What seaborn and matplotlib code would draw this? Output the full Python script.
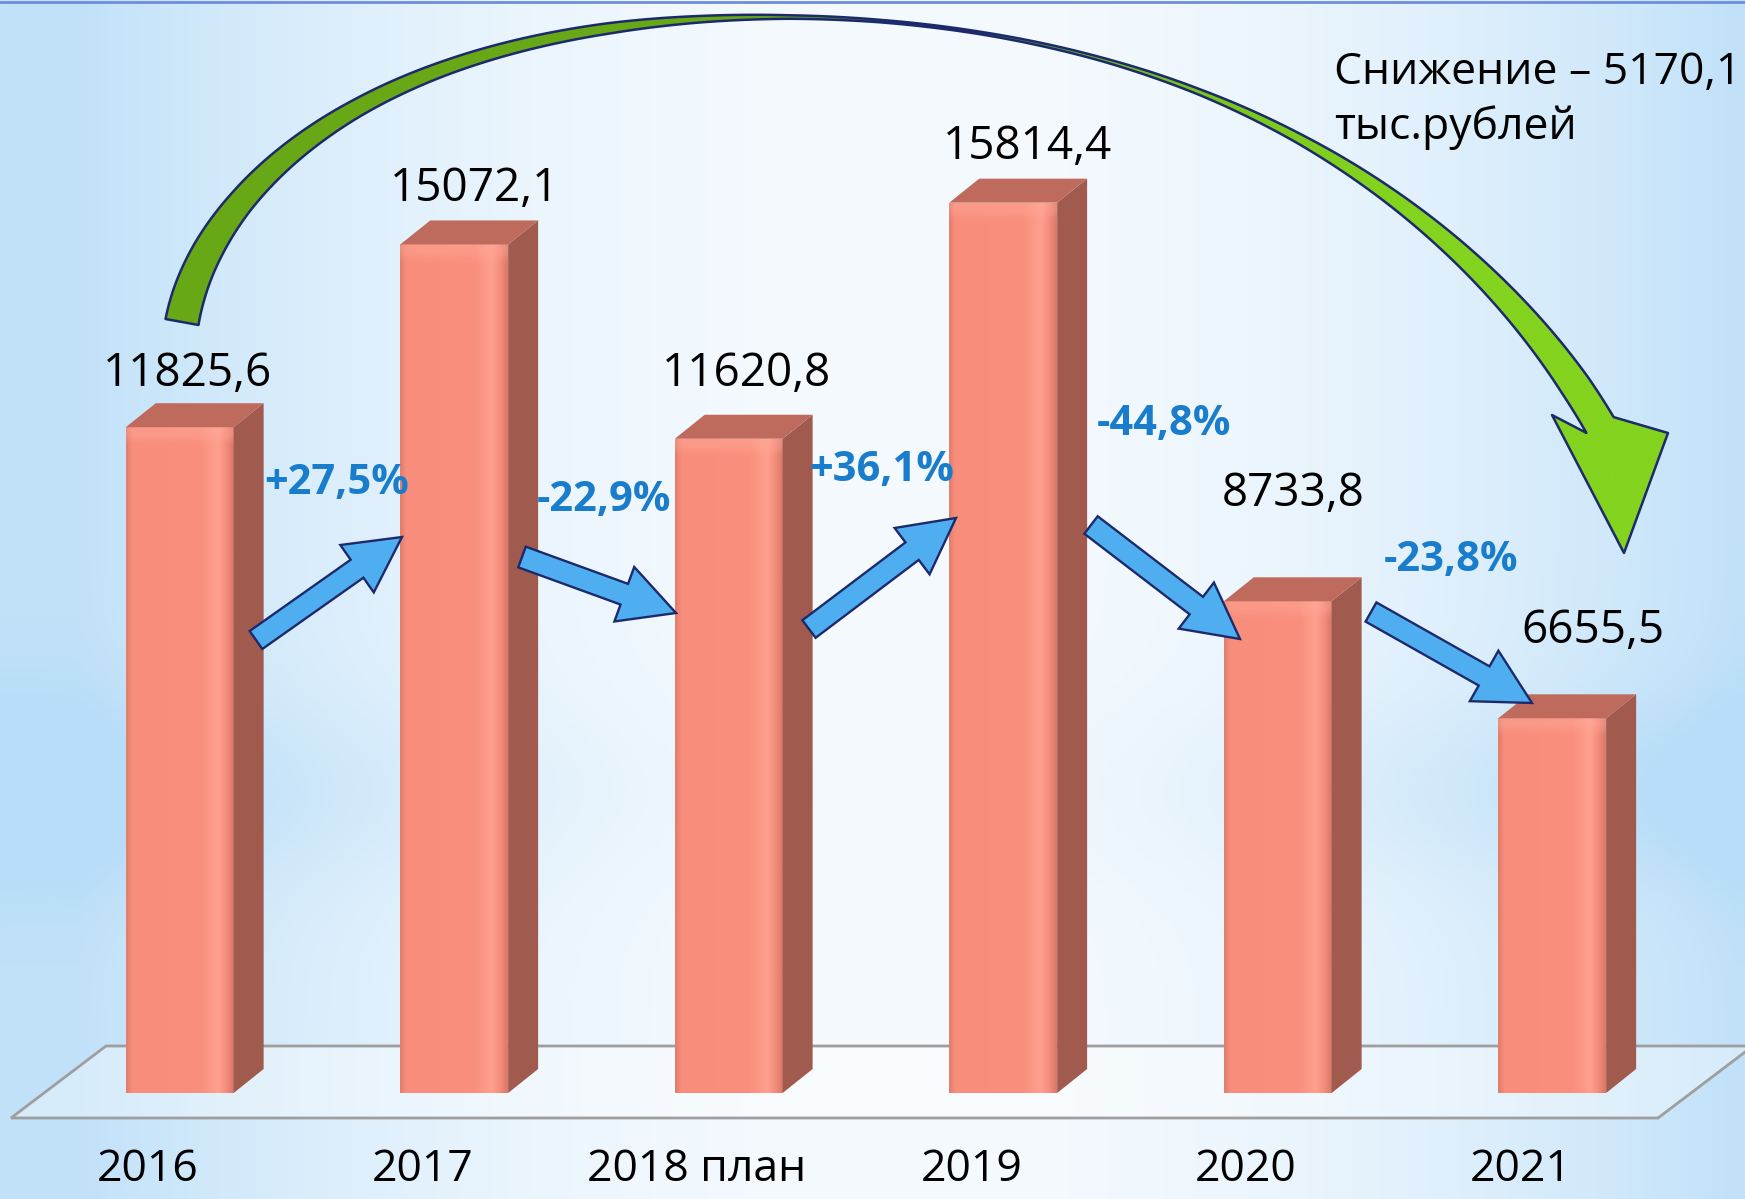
import numpy as np
import pandas as pd
import matplotlib
matplotlib.use("Agg")
import matplotlib.pyplot as plt
import seaborn as sns
from matplotlib.patches import Polygon, FancyArrow
from matplotlib.transforms import Affine2D
from matplotlib.colors import to_rgb
from numpy.polynomial import Polynomial

# ---------------- data ----------------
years = ['2016', '2017', '2018 план', '2019', '2020', '2021']
values = [11825.6, 15072.1, 11620.8, 15814.4, 8733.8, 6655.5]
value_labels = ['11825,6', '15072,1', '11620,8', '15814,4', '8733,8', '6655,5']
change_labels = ['+27,5%', '-22,9%', '+36,1%', '-44,8%', '-23,8%']
note_lines = ['Снижение – 5170,1', 'тыс.рублей']

# ---------------- layout / style ----------------
W, H = 1745, 1199
FRONT = '#F98D7B'
SIDE = '#A05B4E'
TOP = '#BE6B5E'
NAVY = '#1C2A6C'
BLUE_FILL = '#4FAEF0'
PCT_COLOR = '#1A7DCC'
DEPTH_X, DEPTH_Y = 30, 24

# value-label offsets (px, relative to bar top front centre) -> baseline
label_offsets = [(8, -41), (20, -43), (18, -53), (24, -44), (15, -95), (41, -75)]
# change arrows (tail, tip) in pixel coords from top-left
arrow_geom = [((256, 640), (402, 537)), ((522, 557), (676, 613)),
              ((809, 629), (956, 518)), ((1091, 525), (1240, 639)),
              ((1371, 612), (1532, 703))]
pct_pos = [(337, 494), (604, 511), (882, 481), (1164, 435), (1451, 571)]

sns.set_style('white')
plt.rcParams['font.family'] = ['Open Sans', 'DejaVu Sans']

fig = plt.figure(figsize=(W / 100, H / 100), dpi=100)
PIX = Affine2D().scale(1, -1).translate(0, H)

# ---------------- background ----------------
bg = fig.add_axes([0, 0, 1, 1], zorder=0)
bg.set_axis_off()
xs = np.linspace(0, 1, 500)
ys = np.linspace(0, 1, 350)
X, Y = np.meshgrid(xs, ys)
fx = np.clip(np.abs(X - 0.52) * 2.1, 0, 1) ** 2.0
band = np.exp(-((Y - 0.66) / 0.08) ** 2) * 0.35 * np.clip(np.abs(X - 0.5) * 2, 0, 1)
f = np.clip(fx * 0.85 + band, 0, 1)
white = np.array(to_rgb('#F5FAFE'))
blue = np.array(to_rgb('#B8DDF8'))
img = white[None, None, :] * (1 - f[..., None]) + blue[None, None, :] * f[..., None]
bg.imshow(img, extent=[0, W, H, 0], aspect='auto', interpolation='bilinear')
bg.set_xlim(0, W)
bg.set_ylim(H, 0)
bg.plot([0, W], [1.5, 1.5], color='#6E8EDC', lw=2)

# floor (drawn under bars)
floor = Polygon([(11, 1118), (1658, 1118), (1753, 1046), (106, 1046)], closed=True,
                facecolor=(1, 1, 1, 0.35), edgecolor='#9E9E9E', lw=2.0, zorder=2)
bg.add_patch(floor)

# ---------------- main bar axes ----------------
ax = fig.add_axes([0, (H - 1118) / H, 1, 1118 / H], zorder=1)
ax.patch.set_alpha(0)
df = pd.DataFrame({'year': years, 'value': values})
sns.barplot(data=df, x='year', y='value', ax=ax, width=0.393, color=FRONT,
            saturation=1, edgecolor='none', linewidth=0, errorbar=None)
ax.set_xlim(-0.6546, 5.7024)
ax.set_ylim(-444, 19414)
for s in ax.spines.values():
    s.set_visible(False)
ax.set_xlabel('')
ax.set_ylabel('')
ax.set_yticks([])
ax.set_xticks(np.arange(len(years)) - 0.1155, labels=years)
ax.set_xticks(np.arange(len(years) + 1) - 0.6146, minor=True)
ax.tick_params(axis='x', which='major', length=0, pad=21, labelsize=32, labelcolor='black')
ax.tick_params(axis='x', which='minor', length=12, width=1.4, color='#9E9E9E', direction='out')

# front gradient profile
prof_pos = [0.0, 0.05, 0.70, 0.86, 0.94, 1.0]
prof_col = ['#E27E6D', '#F98D7B', '#FA8F7D', '#FFA08F', '#F48B7A', '#D97A6B']
prof_rgb = np.array([to_rgb(c) for c in prof_col])

bars = [p for p in ax.patches]
for i, p in enumerate(bars):
    x0, w, h = p.get_x(), p.get_width(), p.get_height()
    (dl, dt) = ax.transData.transform((x0, h))
    (dr, db) = ax.transData.transform((x0 + w, 0))
    L, R, T, B = dl, dr, H - dt, H - db
    nx, ny = 60, 200
    u = np.linspace(0, 1, nx)
    row = np.stack([np.interp(u, prof_pos, prof_rgb[:, k]) for k in range(3)], axis=-1)
    face = np.repeat(row[None, :, :], ny, axis=0)
    hpx = max(B - T, 1)
    vy = np.linspace(0, hpx, ny)
    top_light = np.clip(1 - (vy - 6) / 10, 0, 1)[:, None, None] * 0.35
    face = face * (1 - top_light) + np.array(to_rgb('#FFB0A0'))[None, None, :] * top_light
    im = ax.imshow(face, extent=[x0, x0 + w, 0, h], aspect='auto', zorder=1.5,
                   interpolation='bilinear', origin='upper')
    im.set_clip_path(p)
    side = Polygon([(R, T), (R + DEPTH_X, T - DEPTH_Y), (R + DEPTH_X, B - DEPTH_Y), (R, B)],
                   closed=True, facecolor=SIDE, edgecolor='none', transform=PIX,
                   clip_on=False, zorder=1.6)
    ax.add_patch(side)
    top = Polygon([(L, T), (L + DEPTH_X, T - DEPTH_Y), (R + DEPTH_X, T - DEPTH_Y), (R, T)],
                  closed=True, facecolor=TOP, edgecolor='none', transform=PIX,
                  clip_on=False, zorder=1.6)
    ax.add_patch(top)
    dx, dy = label_offsets[i]
    ax.annotate(value_labels[i], xy=(x0 + w / 2, h), xytext=(dx * 0.72, -dy * 0.72),
                textcoords='offset points', ha='center', va='baseline',
                fontsize=33, color='black', zorder=5, annotation_clip=False)

ax.set_xlim(-0.6546, 5.7024)
ax.set_ylim(-444, 19414)

# ---------------- overlay: arrows & notes ----------------
over = fig.add_axes([0, 0, 1, 1], zorder=2)
over.set_axis_off()
over.patch.set_alpha(0)

# green curved arrow: centreline (smooth polynomial fit) + width profile (pixels)
centre = np.array([(182, 322), (190, 295), (210, 247), (240, 203), (290, 152), (357, 108),
                   (440, 71), (523, 45), (607, 28), (700, 19), (790, 17), (880, 21),
                   (980, 33), (1100, 60), (1200, 92), (1300, 137), (1396, 202),
                   (1476, 270), (1535, 330), (1575, 385), (1600, 425)], float)
widths = np.array([36, 35, 32, 28, 24, 20, 17, 15, 13, 9, 6, 5, 5, 6, 8, 12, 18, 24,
                   29, 33, 34], float)
chord = np.concatenate([[0], np.cumsum(np.linalg.norm(np.diff(centre, axis=0), axis=1))])
sn = chord / chord[-1]
wts = np.ones(len(sn))
wts[0] = wts[-1] = 8
px_fit = Polynomial.fit(sn, centre[:, 0], 7, w=wts)
py_fit = Polynomial.fit(sn, centre[:, 1], 7, w=wts)
ss = np.linspace(0, 1, 500)
cl = np.stack([px_fit(ss), py_fit(ss)], axis=1)
wl = np.maximum(np.interp(ss, sn, widths) - 2.5, 1.5)
d = np.stack([px_fit.deriv()(ss), py_fit.deriv()(ss)], axis=1)
d /= np.linalg.norm(d, axis=1)[:, None]
nrm = np.stack([-d[:, 1], d[:, 0]], axis=1)
inner = cl + nrm * wl[:, None] / 2
outer = cl - nrm * wl[:, None] / 2
head = np.array([(1668, 433), (1624, 553), (1552, 415)])
verts = np.vstack([outer, head, inner[::-1]])
garrow = Polygon(verts, closed=True, facecolor='none', edgecolor=NAVY, lw=1.8,
                 joinstyle='round', zorder=3)
over.add_patch(garrow)
gx = np.linspace(0, 1, 300)
c1 = np.array(to_rgb('#68A817'))
c2 = np.array(to_rgb('#83D31F'))
gw = np.clip((gx - 0.45) / 0.35, 0, 1)
grad = (c1[None, :] * (1 - gw[:, None]) + c2[None, :] * gw[:, None])[None, :, :]
gim = over.imshow(grad, extent=[150, 1700, 570, 0], aspect='auto', zorder=2,
                  interpolation='bilinear')
gim.set_clip_path(garrow)

for (tail, tip) in arrow_geom:
    ddx, ddy = tip[0] - tail[0], tip[1] - tail[1]
    fa = FancyArrow(tail[0], tail[1], ddx, ddy, width=22, head_width=58,
                    head_length=55, length_includes_head=True,
                    facecolor=BLUE_FILL, edgecolor=NAVY, lw=1.7, zorder=4)
    over.add_patch(fa)

for (x, y), s in zip(pct_pos, change_labels):
    over.text(x, y, s, ha='center', va='baseline', fontsize=30, fontweight='bold',
              color=PCT_COLOR, zorder=5)

over.text(1334, 84, note_lines[0], ha='left', va='baseline', fontsize=32, color='black',
          zorder=5)
over.text(1334, 139, note_lines[1], ha='left', va='baseline', fontsize=32, color='black',
          zorder=5)

over.set_xlim(0, W)
over.set_ylim(H, 0)

fig.savefig('out.png', dpi=100)
